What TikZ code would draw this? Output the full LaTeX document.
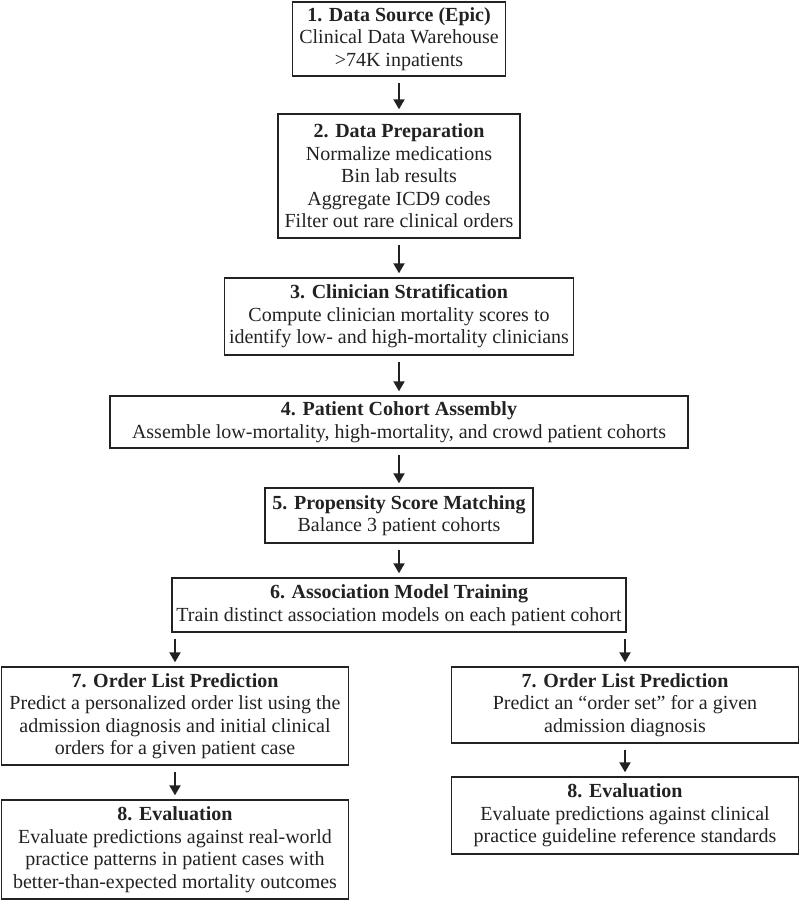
\documentclass[tikz,border=0pt]{standalone}
\usepackage{fontspec}
\setmainfont{Liberation Serif}
\usetikzlibrary{arrows.meta}
\definecolor{ink}{HTML}{222222}
\begin{document}
\begin{tikzpicture}[x=1pt,y=-1pt,
 box/.style={draw=ink, line width=1.4pt, rectangle, inner sep=0pt, align=center, font=\fontsize{20}{22.5}\selectfont, text=ink},
 arr/.style={draw=ink, line width=2pt, -{Triangle[length=10pt,width=11pt]}, shorten <=6pt, shorten >=4pt}]
\useasboundingbox (0,0) rectangle (800,901);
\node[box, minimum width=213pt, minimum height=74pt] (b1) at (399,39) {\textbf{1. Data Source (Epic)}\\Clinical Data Warehouse\\>74K inpatients};
\node[box, minimum width=242pt, minimum height=124pt] (b2) at (399,176) {\textbf{2. Data Preparation}\\Normalize medications\\Bin lab results\\Aggregate ICD9 codes\\Filter out rare clinical orders};
\node[box, minimum width=349pt, minimum height=77pt] (b3) at (399,316.5) {\textbf{3. Clinician Stratification}\\Compute clinician mortality scores to\\identify low- and high-mortality clinicians};
\node[box, minimum width=578pt, minimum height=52pt] (b4) at (399,422) {\textbf{4. Patient Cohort Assembly}\\Assemble low-mortality, high-mortality, and crowd patient cohorts};
\node[box, minimum width=268pt, minimum height=55pt] (b5) at (399,515.5) {\textbf{5. Propensity Score Matching}\\Balance 3 patient cohorts};
\node[box, minimum width=454pt, minimum height=54pt] (b6) at (399,605) {\textbf{6. Association Model Training}\\Train distinct association models on each patient cohort};
\node[box, minimum width=347pt, minimum height=98pt] (b7l) at (175,716) {\textbf{7. Order List Prediction}\\Predict a personalized order list using the\\admission diagnosis and initial clinical\\orders for a given patient case};
\node[box, minimum width=347pt, minimum height=99pt] (b8l) at (175,849.5) {\textbf{8. Evaluation}\\Evaluate predictions against real-world\\practice patterns in patient cases with\\better-than-expected mortality outcomes};
\node[box, minimum width=347pt, minimum height=76pt] (b7r) at (625,705) {\textbf{7. Order List Prediction}\\Predict an “order set” for a given\\admission diagnosis};
\node[box, minimum width=347pt, minimum height=77pt] (b8r) at (625,815.5) {\textbf{8. Evaluation}\\Evaluate predictions against clinical\\practice guideline reference standards};
\draw[arr] (b1) -- (b2);
\draw[arr] (b2) -- (b3);
\draw[arr] (b3) -- (b4);
\draw[arr] (b4) -- (b5);
\draw[arr] (b5) -- (b6);
\draw[arr] (b7l.north |- b6.south) -- (b7l.north);
\draw[arr] (b7r.north |- b6.south) -- (b7r.north);
\draw[arr] (b7l) -- (b8l);
\draw[arr] (b7r) -- (b8r);
\end{tikzpicture}
\end{document}
